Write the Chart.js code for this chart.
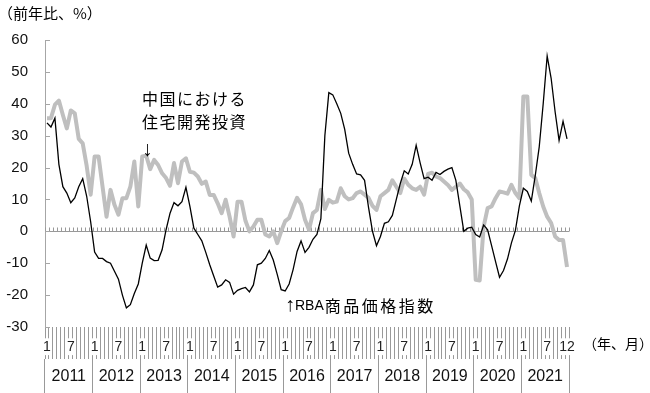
<!DOCTYPE html>
<html>
<head>
<meta charset="utf-8">
<script src="https://cdn.jsdelivr.net/npm/chart.js@4.4.1/dist/chart.umd.min.js"></script>
<style>
  html, body { margin: 0; padding: 0; background: #fff; }
  canvas { display: block; }
</style>
</head>
<body>
<canvas id="chart" width="650" height="393"></canvas>
<script>
// Years on the bottom row, months are built from them
const years = ['2011', '2012', '2013', '2014', '2015', '2016', '2017', '2018', '2019', '2020', '2021']
const months = []
years.forEach(y => { for (let m = 1; m <= 12; m++) months.push(y + '/' + m) })

// RBA商品価格指数 (前年比、%), monthly Jan 2011 - Dec 2021
const rbaIndex = [
  34, 32.7, 35.5, 21, 14, 12, 9, 10.5, 14, 16.5, 11, 3,
  -6.5, -8.5, -8.5, -9.5, -10, -12.5, -15, -20, -24, -23, -19.5, -16.5,
  -10, -4.3, -8.4, -9.2, -9.1, -5.8, 0.5, 5.7, 9, 8, 9.3, 13.8,
  7.8, 1, -1, -3, -6.6, -10.5, -14, -17.5, -16.8, -15.2, -16, -19.7,
  -18.5, -18, -17.6, -19, -16.8, -10.5, -10, -8.5, -6, -9, -13.5, -18.3,
  -18.7, -16.5, -12, -6.3, -3, -6.6, -5, -2.5, -1, 4, 30, 43.5,
  42.8, 40, 37, 32, 24.5, 21, 18, 17.7, 16, 7.5, 0, -4.5,
  -1.6, 2.5, 3, 5, 10, 15, 19, 18, 21, 27, 21.5, 16.5,
  17, 16, 18.5, 17.8, 18.8, 19.5, 20, 16, 8, 0, 1, 1.3,
  -1, -1.8, 2, 0.5, -4.5, -9.5, -14.4, -12.3, -8.7, -3.6, 0.3, 8,
  13.5, 12.5, 9.5, 17.5, 26.5, 40, 55, 48, 37.5, 28.5, 34.5, 29
]

// 中国における住宅開発投資 (前年比、%)
const chinaHousing = [
  35.5, 35.5, 39.7, 41, 36.5, 32.3, 37.9, 37, 29, 27.6, 20.5, 11.5,
  23.5, 23.5, 14, 4.6, 13, 8.3, 5.2, 10.4, 10.4, 14, 21.9, 7.8,
  23.5, 23.7, 19.5, 22.4, 20.8, 18.2, 16.7, 14.3, 21.4, 15.1, 21.9, 22.9,
  18.7, 18.4, 17.2, 14.9, 15.6, 11.4, 11.4, 8.8, 5.7, 9.9, 4.6, -1.6,
  9.3, 9.3, 3.3, 0, 1.5, 3.6, 3.6, -1, -1.6, 0, -3.7, 0,
  3.2, 4.2, 7.5, 10.5, 8.5, 3.6, 0.5, 5.7, 6.7, 13, 7, 9.9,
  9, 9.3, 13.5, 11, 10, 10.4, 12, 12.5, 11.5, 10.5, 8, 6.7,
  11, 12, 13, 16, 14, 12, 16.5, 14.6, 13.5, 13, 14, 11.5,
  18, 18.4, 17.2, 16.7, 15.6, 14.5, 13, 14, 15, 13.2, 12.2, 10,
  -15.2, -15.4, 1.5, 7.3, 7.8, 10.4, 12.5, 12.2, 11.8, 14.6, 12, 10.4,
  42.3, 42.3, 17.7, 16.7, 12, 7.8, 4.6, 2.6, -1.6, -2.7, -2.7, -11.2
]

const yMin = -30
const yMax = 60
const yStep = 10

const LATIN = '"Liberation Sans", Arial, sans-serif'
const CJK = '"Noto Sans CJK JP", sans-serif'
const AXIS_GRAY = '#a6a6a6'

// only Jan, Jul and the final Dec get a month label
function monthLabel(index) {
  if (index === months.length - 1) return '12'
  const m = index % 12 + 1
  return (m === 1 || m === 7) ? String(m) : ''
}

// extra marks: inward value ticks, month ticks on the zero line, free texts
const decor = {
  id: 'decor',
  beforeDatasetsDraw(chart) {
    const { ctx, scales: { x, y } } = chart
    const step = x.getPixelForValue(1) - x.getPixelForValue(0)
    const y0 = Math.round(y.getPixelForValue(0)) + 0.5
    ctx.save()
    ctx.lineWidth = 1
    ctx.strokeStyle = '#999'
    ctx.beginPath()
    for (let i = 0; i <= months.length; i++) {
      const px = Math.round(x.getPixelForValue(i) - step / 2) + 0.5
      ctx.moveTo(px, y0)
      ctx.lineTo(px, y0 - 4)
    }
    ctx.stroke()
    ctx.strokeStyle = AXIS_GRAY
    ctx.beginPath()
    y.ticks.forEach(t => {
      const py = Math.round(y.getPixelForValue(t.value)) + 0.5
      ctx.moveTo(x.left, py)
      ctx.lineTo(x.left + 5, py)
    })
    ctx.stroke()
    ctx.restore()
  },
  afterDraw(chart) {
    const ctx = chart.ctx
    ctx.save()
    ctx.fillStyle = '#000'
    ctx.textBaseline = 'middle'
    ctx.textAlign = 'left'

    ctx.font = '15px ' + CJK
    ctx.fillText('（前年比、%）', -2, 13)
    ctx.font = '14px ' + CJK
    ctx.fillText('（年、月）', 583, 344)

    ctx.font = '16px ' + CJK
    ctx.letterSpacing = '1.5px'
    ctx.fillText('中国における', 142, 99)
    ctx.fillText('住宅開発投資', 142, 122)
    ctx.letterSpacing = '0px'
    ctx.font = '21px ' + LATIN
    ctx.fillText('↓', 142, 150)

    ctx.font = '20px ' + LATIN
    ctx.fillText('↑', 285, 305)
    ctx.font = '14px ' + LATIN
    ctx.fillText('RBA', 295, 306)
    const w = ctx.measureText('RBA').width
    ctx.font = '16px ' + CJK
    ctx.letterSpacing = '2.5px'
    ctx.fillText('商品価格指数', 295 + w + 1, 306)
    ctx.restore()
  }
}

Chart.defaults.font.family = LATIN
Chart.defaults.color = '#111'

new Chart(document.getElementById('chart').getContext('2d'), {
  type: 'line',
  data: {
    labels: months,
    datasets: [
      {
        label: 'RBA商品価格指数',
        data: rbaIndex,
        borderColor: '#000',
        borderWidth: 1.3,
        pointRadius: 0,
        tension: 0,
        xAxisID: 'x'
      },
      {
        label: '中国における住宅開発投資',
        data: chinaHousing,
        borderColor: '#bfbfbf',
        borderWidth: 4,
        borderJoinStyle: 'round',
        pointRadius: 0,
        tension: 0,
        xAxisID: 'x'
      }
    ]
  },
  options: {
    responsive: false,
    animation: false,
    layout: {
      padding: { top: 40, right: 81, bottom: 0, left: 0 }
    },
    plugins: {
      legend: { display: false },
      tooltip: { enabled: false }
    },
    scales: {
      x: {
        type: 'category',
        labels: months,
        position: 'bottom',
        offset: true,
        weight: 0,
        border: { display: false },
        grid: {
          offset: true,
          drawOnChartArea: false,
          drawTicks: true,
          tickLength: 32,
          color: '#999'
        },
        ticks: {
          autoSkip: false,
          maxRotation: 0,
          minRotation: 0,
          padding: -20.7,
          font: { size: 14 },
          color: '#222',
          showLabelBackdrop: ctx => monthLabel(ctx.index) !== '',
          backdropColor: '#fff',
          backdropPadding: { top: 0, bottom: 0, left: 1, right: 1 },
          callback: (value, index) => monthLabel(index)
        },
        afterFit: s => { s.height = 32 }
      },
      yr: {
        type: 'category',
        labels: years,
        position: 'bottom',
        offset: true,
        weight: 1,
        border: { display: false },
        grid: {
          offset: true,
          drawOnChartArea: false,
          drawTicks: true,
          tickLength: 34,
          color: '#999'
        },
        ticks: {
          autoSkip: false,
          maxRotation: 0,
          padding: -25.9,
          font: { size: 16 },
          color: '#111'
        },
        afterFit: s => { s.height = 34 }
      },
      y: {
        min: yMin,
        max: yMax,
        border: { display: true, color: AXIS_GRAY },
        grid: {
          drawTicks: false,
          color: ctx => (ctx.tick && ctx.tick.value === 0) ? '#999' : 'rgba(0,0,0,0)'
        },
        ticks: {
          stepSize: yStep,
          padding: 17,
          font: { size: 15 },
          color: '#111'
        },
        afterFit: s => { s.width = 45 }
      }
    }
  },
  plugins: [decor]
})
</script>
</body>
</html>
